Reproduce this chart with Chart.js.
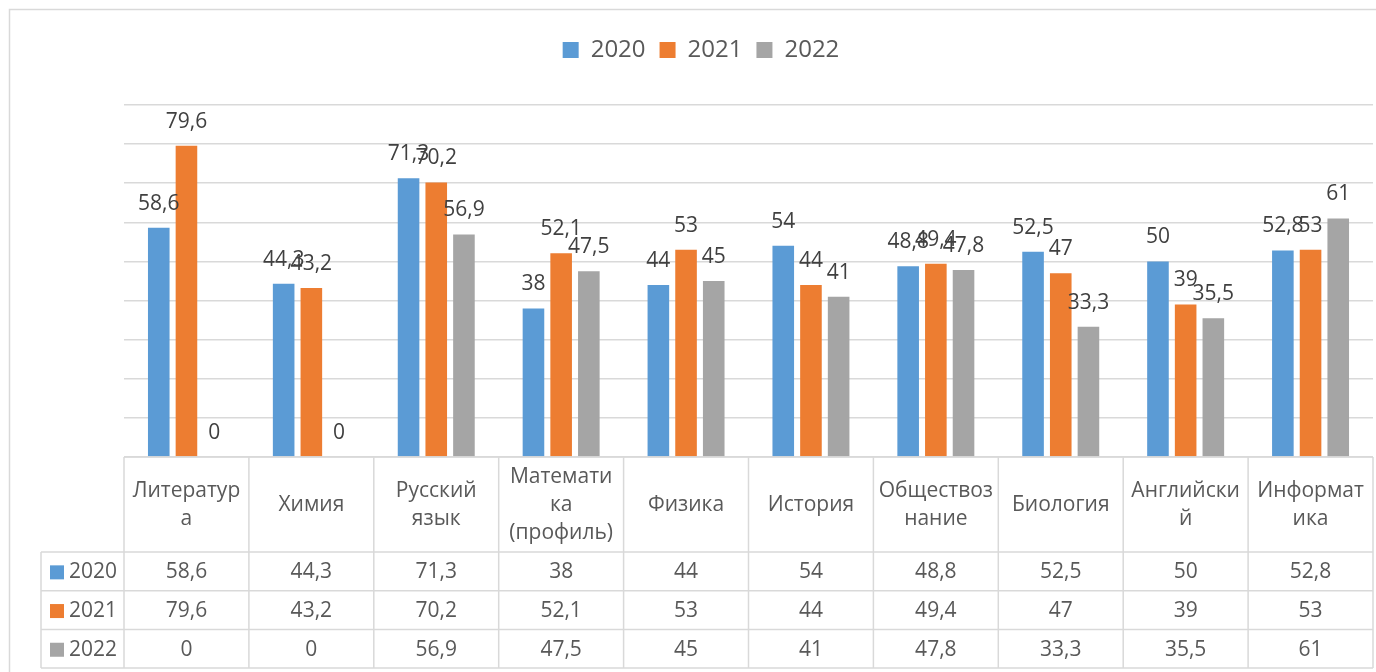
<!DOCTYPE html>
<html>
<head>
<meta charset="utf-8">
<script src="https://cdn.jsdelivr.net/npm/chart.js@4.4.0/dist/chart.umd.min.js"></script>
<style>
  body { margin: 0; background: #fff; }
  #wrap { width: 1376px; height: 672px; }
</style>
</head>
<body>
<div id="wrap"><canvas id="examsChart"></canvas></div>
<script>
// subjects, wrapped the way the table header shows them
var categories = [
  ['Литератур', 'а'], ['Химия'], ['Русский', 'язык'], ['Математи', 'ка', '(профиль)'],
  ['Физика'], ['История'], ['Обществоз', 'нание'], ['Биология'], ['Английски', 'й'], ['Информат', 'ика']
];
var years = ['2020', '2021', '2022'];
var values2020 = [58.6, 44.3, 71.3, 38, 44, 54, 48.8, 52.5, 50, 52.8];
var values2021 = [79.6, 43.2, 70.2, 52.1, 53, 44, 49.4, 47, 39, 53];
var values2022 = [0, 0, 56.9, 47.5, 45, 41, 47.8, 33.3, 35.5, 61];
var yMin = 0, yMax = 90, yStep = 10;

var colors = ['#5B9BD5', '#ED7D31', '#A5A5A5'];
var fontFamily = "'Open Sans', 'Noto Sans', sans-serif";
var lineColor = '#d9d9d9';

function fmt(v) { return String(v).replace('.', ','); }

// light frame of the chart area, like the Excel object border
var framePlugin = {
  id: 'frame',
  beforeDraw: function(chart) {
    var ctx = chart.ctx;
    ctx.save();
    ctx.strokeStyle = lineColor;
    ctx.lineWidth = 1.5;
    ctx.strokeRect(9.5, 9.5, 1400, 700);
    ctx.restore();
  }
};

// legend takes more room so the plot starts lower
var legendSpace = {
  id: 'legendSpace',
  beforeInit: function(chart) {
    if (!chart.legend) return;
    var fit = chart.legend.fit;
    chart.legend.fit = function() {
      fit.call(this);
      this.height = 81;
    };
  }
};

var barLabels = {
  id: 'barLabels',
  afterDatasetsDraw: function(chart) {
    var ctx = chart.ctx;
    ctx.save();
    ctx.font = '21px ' + fontFamily;
    ctx.fillStyle = '#404040';
    ctx.textAlign = 'center';
    ctx.textBaseline = 'alphabetic';
    chart.data.datasets.forEach(function(ds, di) {
      chart.getDatasetMeta(di).data.forEach(function(bar, i) {
        ctx.fillText(fmt(ds.data[i]), bar.x, bar.y - 18);
      });
    });
    ctx.restore();
  }
};

// data table under the plot, columns follow the x scale
var dataTable = {
  id: 'dataTable',
  afterDraw: function(chart) {
    var ctx = chart.ctx;
    var area = chart.chartArea;
    var xs = chart.scales.x;
    var n = categories.length;
    var cw = (area.right - area.left) / n;
    var top = area.bottom;
    var headBottom = top + 95;
    var rowH = 38.7;
    var tableLeft = 41;
    var rows = chart.data.datasets;
    var bottom = headBottom + rowH * rows.length;

    ctx.save();
    ctx.strokeStyle = lineColor;
    ctx.lineWidth = 1.5;
    ctx.beginPath();
    ctx.moveTo(area.left, top); ctx.lineTo(area.right, top);
    for (var r = 0; r <= rows.length; r++) {
      var y = headBottom + r * rowH;
      ctx.moveTo(tableLeft, y); ctx.lineTo(area.right, y);
    }
    for (var c = 0; c <= n; c++) {
      var x = area.left + c * cw;
      ctx.moveTo(x, top); ctx.lineTo(x, bottom);
    }
    ctx.moveTo(tableLeft, headBottom); ctx.lineTo(tableLeft, bottom);
    ctx.stroke();

    ctx.font = '21px ' + fontFamily;
    ctx.fillStyle = '#595959';
    ctx.textAlign = 'center';
    ctx.textBaseline = 'middle';
    var headMid = (top + headBottom) / 2 + 1;
    categories.forEach(function(lines, i) {
      var cx = xs.getPixelForValue(i);
      var y0 = headMid - (lines.length - 1) * 14;
      lines.forEach(function(t, k) { ctx.fillText(t, cx, y0 + k * 28); });
    });

    rows.forEach(function(ds, r) {
      var cy = headBottom + r * rowH + rowH / 2 + 1;
      ctx.fillStyle = ds.backgroundColor;
      ctx.fillRect(50, cy - 7, 14, 14);
      ctx.fillStyle = '#595959';
      ctx.textAlign = 'left';
      ctx.fillText(ds.label, 69, cy);
      ctx.textAlign = 'center';
      ds.data.forEach(function(v, i) {
        ctx.fillText(fmt(v), xs.getPixelForValue(i), cy);
      });
    });
    ctx.restore();
  }
};

new Chart(document.getElementById('examsChart'), {
  type: 'bar',
  data: {
    labels: categories,
    datasets: [
      { label: years[0], data: values2020, backgroundColor: colors[0] },
      { label: years[1], data: values2021, backgroundColor: colors[1] },
      { label: years[2], data: values2022, backgroundColor: colors[2] }
    ]
  },
  options: {
    responsive: true,
    maintainAspectRatio: false,
    animation: false,
    categoryPercentage: 0.665,
    barPercentage: 0.78,
    layout: { padding: { top: 24, left: 29, right: 3, bottom: 0 } },
    plugins: {
      legend: {
        position: 'top',
        labels: {
          boxWidth: 16,
          boxHeight: 16,
          padding: 14,
          color: '#595959',
          font: { family: fontFamily, size: 24 }
        }
      },
      tooltip: { enabled: false }
    },
    scales: {
      x: {
        ticks: { display: false },
        grid: { display: false },
        border: { display: false },
        afterFit: function(scale) { scale.height = 215; }
      },
      y: {
        min: yMin,
        max: yMax,
        ticks: { display: false, stepSize: yStep },
        grid: { color: lineColor, lineWidth: 1.5, drawTicks: false },
        border: { display: false },
        afterFit: function(scale) { scale.width = 95; }
      }
    }
  },
  plugins: [framePlugin, legendSpace, barLabels, dataTable]
});
</script>
</body>
</html>
